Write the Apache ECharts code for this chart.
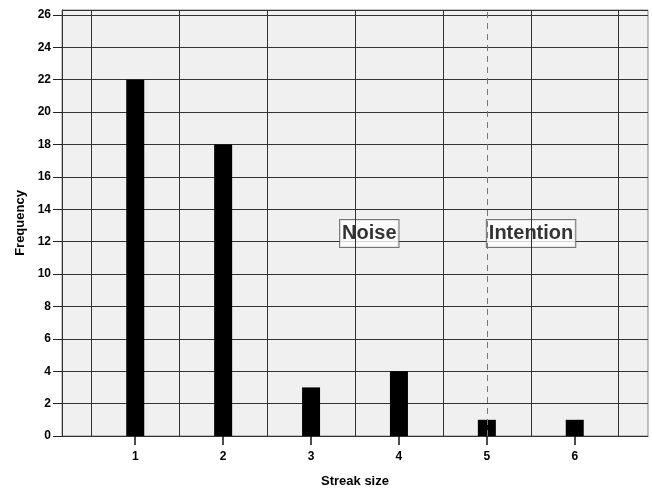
<!DOCTYPE html>
<html>
<head>
<meta charset="utf-8">
<script src="https://cdn.jsdelivr.net/npm/echarts@6/dist/echarts.min.js"></script>
<style>
  html, body { margin: 0; padding: 0; background: #fff; }
  #chart { width: 652px; height: 489px; }
</style>
</head>
<body>
<div id="chart"></div>
<script>
// data
const streakSizes = [1, 2, 3, 4, 5, 6];
const frequencies = [22, 18, 3, 4, 1, 1];
const gridLinesX = [0.5, 1.5, 2.5, 3.5, 4.5, 5.5, 6.5];
const intentionLine = 5;
const noteNames = ["Noise", "Intention"];
const noteX = [3.33, 5];
const noteY = [12.5, 12.5];

const font = "Liberation Sans";
const chart = echarts.init(document.getElementById("chart"));

const option = {
  animation: false,
  backgroundColor: "#fff",
  grid: {
    left: 62, right: 4, top: 10, bottom: 53,
    outerBoundsMode: "none",
    show: true,
    backgroundColor: "#f0f0f0",
    borderColor: "#888",
    borderWidth: 1
  },
  xAxis: {
    type: "value",
    min: 1 / 6,
    max: 41 / 6,
    name: "Streak size",
    nameLocation: "middle",
    nameGap: 39,
    nameTextStyle: { fontFamily: font, fontWeight: "bold", fontSize: 13, color: "#000" },
    axisLine: { show: true, lineStyle: { color: "#333", width: 1 } },
    splitLine: { show: false },
    axisTick: { show: false },
    axisLabel: {
      customValues: streakSizes,
      margin: 15,
      fontFamily: font, fontWeight: "bold", fontSize: 12, color: "#000"
    }
  },
  yAxis: {
    type: "value",
    min: 0,
    max: 26.3,
    interval: 2,
    name: "Frequency",
    nameLocation: "middle",
    nameGap: 35,
    nameTextStyle: { fontFamily: font, fontWeight: "bold", fontSize: 13, color: "#000" },
    axisLine: { show: true, lineStyle: { color: "#333", width: 1 } },
    axisTick: { show: true, length: 9, lineStyle: { color: "#222", width: 1 } },
    axisLabel: {
      showMaxLabel: false,
      margin: 11,
      fontFamily: font, fontWeight: "bold", fontSize: 12, color: "#000"
    },
    splitLine: { show: true, lineStyle: { color: "#333", width: 1 } }
  },
  series: [
    {
      // vertical grid lines, the dashed line and the two notes
      type: "scatter",
      z: 1,
      symbolSize: 0,
      silent: true,
      data: noteNames.map((n, i) => ({ name: n, value: [noteX[i], noteY[i]] })),
      label: {
        show: true,
        position: "right",
        distance: 0,
        formatter: "{b}",
        fontFamily: font,
        fontWeight: "bold",
        fontSize: 20,
        color: "#000",
        backgroundColor: "#fff",
        borderColor: "#555",
        borderWidth: 1,
        padding: [4, 2, 3, 2]
      },
      markLine: {
        silent: true,
        symbol: ["none", "none"],
        label: { show: false },
        lineStyle: { color: "#333", type: "solid", width: 1 },
        data: gridLinesX.map(v => ({ xAxis: v }))
          .concat([{ xAxis: intentionLine, lineStyle: { color: "#777", type: [6, 5], width: 1 } }])
      }
    },
    {
      type: "bar",
      z: 3,
      barWidth: 18,
      itemStyle: { color: "#000" },
      data: streakSizes.map((s, i) => [s, frequencies[i]])
    }
  ]
};

chart.setOption(option);

// x ticks at the categories, placed through the axis scale
const y0 = chart.convertToPixel({ yAxisIndex: 0 }, 0);
chart.setOption({
  graphic: streakSizes.map(s => {
    const x = Math.round(chart.convertToPixel({ xAxisIndex: 0 }, s));
    return {
      type: "line",
      silent: true,
      z: 10,
      shape: { x1: x, y1: y0, x2: x, y2: y0 + 9 },
      style: { stroke: "#111", lineWidth: 1.5 }
    };
  })
});
</script>
</body>
</html>
